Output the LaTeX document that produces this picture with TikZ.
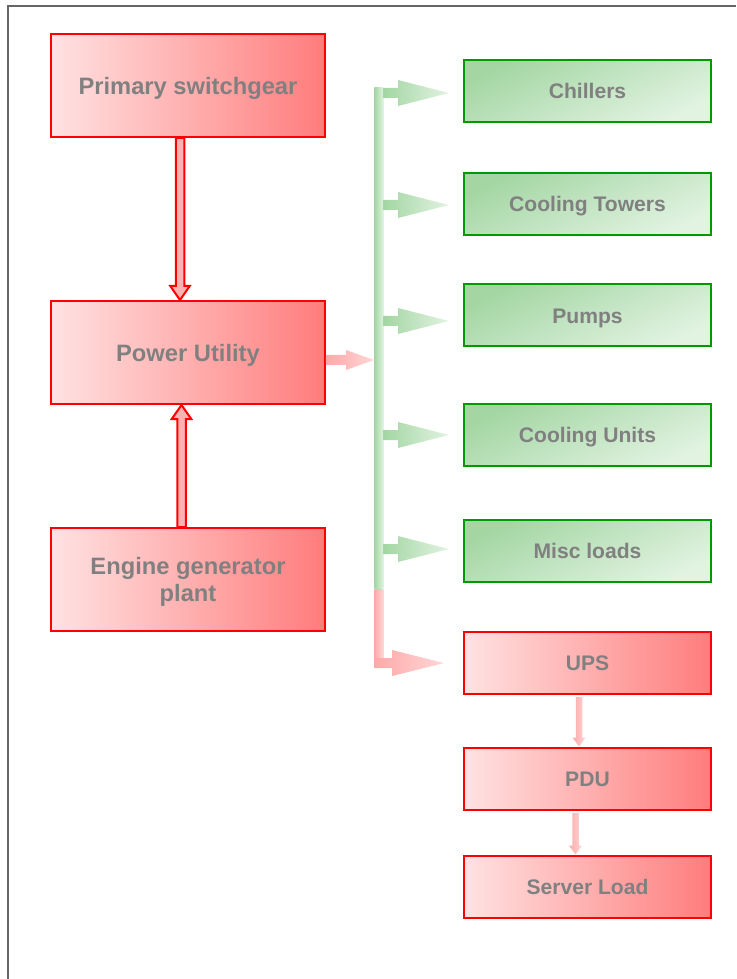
\documentclass[tikz,border=0pt]{standalone}
\usepackage{fontspec}
\setmainfont{Liberation Sans}
\usepackage{xcolor}
\usepackage{tikz}
\usetikzlibrary{
    positioning,
    calc
}
\definecolor{labelgray}{HTML}{808080}
\definecolor{framegray}{HTML}{666666}
\definecolor{pinkpale}{HTML}{FFE2E2}
\definecolor{pinkdeep}{HTML}{FF7C7C}
\definecolor{pinkfeed}{HTML}{FFA8A8}
\definecolor{pinklight}{HTML}{FFD6D6}
\definecolor{greenedge}{HTML}{009A00}
\definecolor{greendeep}{HTML}{A3D6A3}
\definecolor{greenpale}{HTML}{E2F3E2}
\tikzset{
    source/.style={
        draw=red,
        line width=0.4mm,
        left color=pinkpale,
        right color=pinkdeep,
        minimum width=54.7mm,
        minimum height=20.6mm,
        align=center,
        text=labelgray,
        text height=10.8pt,
        text depth=0pt,
        font=\bfseries\fontsize{13.5}{15.5}\selectfont
    }
}
\tikzset{
    coolload/.style={
        draw=greenedge,
        line width=0.4mm,
        top color=greendeep,
        bottom color=greenpale,
        shading angle=25,
        minimum width=49.4mm,
        minimum height=12.4mm,
        align=center,
        text=labelgray,
        text height=8.8pt,
        text depth=0pt,
        font=\bfseries\fontsize{12}{14}\selectfont
    }
}
\tikzset{
    itload/.style={
        source,
        minimum width=49.4mm,
        minimum height=12.4mm,
        text height=8.8pt,
        font=\bfseries\fontsize{12}{14}\selectfont
    }
}
\tikzset{
    hollowfeed/.style={
        draw=red,
        line width=0.4mm,
        line join=miter,
        fill=red!30
    }
}
\tikzset{
    pinkfeed/.style={
        left color=pinkfeed,
        right color=pinklight
    }
}
\tikzset{
    coolfeed/.style={
        left color=greendeep,
        right color=greenpale
    }
}
\tikzset{
    busbar/.style={
        inner sep=0pt,
        minimum width=1.8mm,
        anchor=north west
    }
}

\begin{document}
\begin{tikzpicture}

\useasboundingbox (0,0) rectangle (147.2mm,-195.8mm);

% page frame, open to the right and bottom
\draw[framegray, line width=0.4mm] (1.6mm,-195.8mm) -- (1.6mm,-1.2mm) -- (147.2mm,-1.2mm);

% ------------------------------------------------------------
% Supply side
% ------------------------------------------------------------

\node[source] (switch)  at (37.6mm,-17.1mm)  {Primary switchgear};
\node[source] (utility) at (37.6mm,-70.5mm)  {Power Utility};
\node[source, text height={}] (engine) at (37.6mm,-115.9mm) {Engine generator\\plant};

% feeds into the utility node
\foreach \src/\dst/\dx in {switch.south/utility.north/-1.6mm, engine.north/utility.south/-1.3mm} {
    \coordinate (root) at ($(\src)+(\dx,0)$);
    \coordinate (tip) at (root |- \dst);
    \coordinate (neck) at ($(tip)!2.8mm!(root)$);
    \draw[hollowfeed] ($(root)+(-0.85mm,0)$) -- ($(neck)+(-0.85mm,0)$) -- ($(neck)+(-1.95mm,0)$)
        -- (tip) -- ($(neck)+(1.95mm,0)$) -- ($(neck)+(0.85mm,0)$) -- ($(root)+(0.85mm,0)$) -- cycle;
}

% ------------------------------------------------------------
% Distribution bus
% ------------------------------------------------------------

\node[busbar, minimum height=100.2mm, left color=greendeep, right color=greenpale] (bus) at (74.8mm,-17.4mm) {};
\node[busbar, minimum height=14mm, left color=pinkfeed, right color=pinklight] (busit) at (bus.south west) {};

\coordinate (ufrom) at ($(utility.east)+(0,-1.5mm)$);
\coordinate (uto) at (ufrom -| bus.west);
\path[pinkfeed] ($(ufrom)+(0,1mm)$) -- ($(uto)+(-5.6mm,1mm)$) -- ($(uto)+(-5.6mm,2mm)$) -- (uto)
    -- ($(uto)+(-5.6mm,-2mm)$) -- ($(uto)+(-5.6mm,-1mm)$) -- ($(ufrom)+(0,-1mm)$) -- cycle;

% ------------------------------------------------------------
% Loads
% ------------------------------------------------------------

\node[coolload] (chill) at (117.5mm,-18.2mm)  {Chillers};
\node[coolload] (tower) at (117.5mm,-40.8mm)  {Cooling Towers};
\node[coolload] (pump)  at (117.5mm,-63.1mm)  {Pumps};
\node[coolload] (cunit) at (117.5mm,-87mm)    {Cooling Units};
\node[coolload] (misc)  at (117.5mm,-110.2mm) {Misc loads};

\node[itload] (ups)    at (117.5mm,-132.5mm) {UPS};
\node[itload] (pdu)    at (117.5mm,-155.7mm) {PDU};
\node[itload] (server) at (117.5mm,-177.3mm) {Server Load};

% taps off the bus
\foreach \load/\dy in {chill/-0.4mm, tower/-0.2mm, pump/-1.1mm, cunit/0mm, misc/0.4mm} {
    \coordinate (tip) at ($(\load.west)+(-2.8mm,\dy)$);
    \coordinate (root) at (tip -| bus.east);
    \path[coolfeed] ($(root)+(0,1mm)$) -- ($(tip)+(-10.2mm,1mm)$) -- ($(tip)+(-10.2mm,2.6mm)$) -- (tip)
        -- ($(tip)+(-10.2mm,-2.6mm)$) -- ($(tip)+(-10.2mm,-1mm)$) -- ($(root)+(0,-1mm)$) -- cycle;
}

\coordinate (utip) at ($(ups.west)+(-3.8mm,-0.1mm)$);
\coordinate (uroot) at (utip -| busit.west);
\path[pinkfeed] ($(uroot)+(0,1mm)$) -- ($(utip)+(-10.4mm,1mm)$) -- ($(utip)+(-10.4mm,2.6mm)$) -- (utip)
    -- ($(utip)+(-10.4mm,-2.6mm)$) -- ($(utip)+(-10.4mm,-1mm)$) -- ($(uroot)+(0,-1mm)$) -- cycle;

% UPS -> PDU -> servers
\foreach \src/\dst/\dx in {ups/pdu/-1.7mm, pdu/server/-2.4mm} {
    \coordinate (root) at ($(\src.south)+(\dx,-0.5mm)$);
    \coordinate (tip) at (root |- \dst.north);
    \coordinate (neck) at ($(tip)!1.8mm!(root)$);
    \path[pinkfeed] ($(root)+(-0.65mm,0)$) -- ($(neck)+(-0.65mm,0)$) -- ($(neck)+(-1.3mm,0)$)
        -- (tip) -- ($(neck)+(1.3mm,0)$) -- ($(neck)+(0.65mm,0)$) -- ($(root)+(0.65mm,0)$) -- cycle;
}

\end{tikzpicture}
\end{document}
